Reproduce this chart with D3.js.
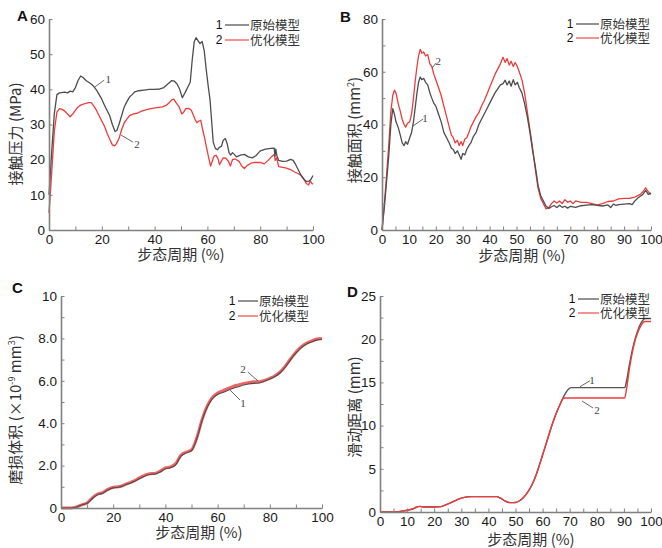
<!DOCTYPE html>
<html>
<head>
<meta charset="utf-8">
<script src="https://cdn.jsdelivr.net/npm/d3@7"></script>
<style>
  body { margin: 0; background: #fff; }
  svg { display: block; }
</style>
</head>
<body>
<div id="chart"></div>
<script>
// Data (x = 步态周期 %, y = value)
const legendNames = ['原始模型', '优化模型'];

const pressureOriginal = [[0,10],[1,22],[2,33],[3,38.5],[4,39],[6,39.2],[7,39],[8,39.5],[9,39.3],[10,40.5],[11,42.5],[12,43.8],[13,43.3],[14,42.5],[15,42],[16,41.5],[17,40.8],[18,39.8],[19,38.5],[20,37.2],[21,35.5],[22,34],[23,32.5],[24,30],[25,28],[25.7,28.3],[26.5,30],[27.5,32.5],[28.5,35],[29.5,36.5],[30.5,37.8],[31.5,38.5],[32.5,39.3],[34,39.6],[36,39.8],[38,40],[40,40],[42,40.1],[43.5,40.5],[45,41.5],[46.5,42.5],[47.5,42.3],[48.5,41.5],[49.5,40],[50.5,37.6],[51.5,39],[52.5,40.5],[53.5,42],[54.2,48],[55,53.5],[55.7,54.7],[56.5,53.8],[57.2,53],[58,53.6],[58.8,51],[59.5,46],[60.3,41],[61,37],[61.6,31],[62.2,25],[63,23.2],[63.8,22.8],[64.5,23.5],[65.3,23.8],[66,25.5],[66.8,26],[67.5,24.5],[68.2,22],[68.8,21.3],[69.5,22],[70.2,21.5],[71,20.8],[72.5,21.3],[74,21.5],[75.5,20.8],[77,20.5],[78.5,21.2],[80,22.5],[82,23],[84,23.2],[85.3,23.3],[85.6,21],[85.9,23],[86.3,21.2],[87,19.8],[88.5,19.5],[90,19.6],[91.5,20.1],[92.5,19.8],[93.5,18.5],[94.5,17],[95.5,15.5],[96.5,14.5],[97.5,13.8],[98.5,13.9],[99.3,14.5],[100,15.5]];
const pressureOptimized = [[0,4.8],[1,16],[2,28],[3,33.5],[4,34.5],[5,34.3],[6,33.8],[7,33],[8,32.2],[9,33],[10,34],[11,35],[12,35.5],[13,35.8],[14,36],[15,36.2],[16,36.2],[17,35.2],[18,34],[19,32.5],[20,31],[21,29.5],[22,27.5],[23,25.8],[24,24.2],[24.8,23.9],[25.5,24.5],[26.5,26],[27.5,28.5],[28.5,30.5],[29.5,31.5],[30.5,32.5],[32,33],[33.5,33.2],[35,33.8],[37,34.2],[39,34.6],[41,34.8],[43,35],[44.5,35.5],[45.5,36.2],[46.5,37],[47.3,37.2],[48.3,36],[49.3,35],[50.3,33],[51,33.5],[51.8,34.5],[52.8,34.6],[53.8,34.2],[54.5,33],[55.3,31.5],[56,30.5],[56.8,31],[57.5,31.2],[58.2,28.5],[59,26],[59.8,23],[60.5,20.5],[61.2,18.2],[61.8,19.5],[62.5,21],[63.3,21.2],[64,20.3],[64.6,18.6],[65.2,19.5],[66,20.5],[67,20.4],[68,19.5],[68.7,18.2],[69.5,20],[70.5,20.2],[72,19.5],[73,18.2],[74,17.5],[75,18.3],[76.5,19],[78,19.2],[80,19.2],[81.5,18.8],[83,19.8],[84.5,21],[85.4,21.5],[85.7,19.8],[86.2,20.5],[87,18],[88.5,17.8],[90,17.6],[91.5,17.2],[93,16.5],[94.5,16],[95.5,15.5],[96.5,14.5],[97.5,13.2],[98.3,12.8],[99,14],[99.5,13.3],[100,13]];

const areaOriginal = [[0,0],[0.8,8],[1.5,16],[2.5,28],[3.3,40],[4,46],[4.6,44],[5.2,41],[6,39],[6.8,36],[7.5,33],[8.2,32],[8.8,33.5],[9.5,32.5],[10.3,35],[11,37],[11.7,41],[12.3,46],[13,52],[13.6,56],[14.2,58],[14.8,57],[15.5,57.5],[16.2,56],[17,55],[17.8,52],[18.5,50],[19.3,48],[20,47],[21,44],[22,41],[23,37],[24,35],[25,33],[25.8,31],[26.5,30.5],[27.2,29],[28,30],[28.7,28.5],[29.4,26.8],[30,29],[30.8,28.5],[31.5,30.5],[32.3,32],[33,33],[34,35.5],[35,37],[36,40],[37,42],[38,44],[39,46],[40,48],[41,50],[42,52],[43,53.5],[44,55],[45,55.5],[45.8,56.8],[46.5,55],[47.3,56.5],[48,54.5],[48.8,57],[49.5,55],[50.3,56],[51,54],[52,52],[53,48],[54,43],[55,37],[56,30],[57,24],[58,17],[59,13],[60,11],[61,9],[62,8.2],[63,8.8],[64,9.3],[65,8.5],[66,9.4],[67,8.6],[68,9],[69,8.3],[70,9],[72,8.6],[74,9.2],[76,9.4],[78,9.6],[80,9.3],[82,9.1],[84,9.5],[85,8.5],[86,9.8],[87,9.3],[88,9.6],[90,9.8],[92,10],[93,9.6],[94,11],[95,12],[96,12.8],[97,13.5],[98,15],[99,13.5],[100,14]];
const areaOptimized = [[0,0],[0.8,9],[1.5,18],[2.5,32],[3.3,45],[4,51],[4.6,53],[5.2,52],[6,48],[6.8,45],[7.5,42],[8.2,40],[8.8,39],[9.5,40.5],[10.3,41],[11,44],[11.7,50],[12.3,56],[13,62],[13.6,66],[14.2,68.5],[14.8,67],[15.5,67.5],[16.2,66],[17,66.5],[17.8,63],[18.5,62],[19.3,59],[20,57],[21,54],[22,51],[23,47],[24,43],[25,39],[25.8,36],[26.5,35],[27.2,33],[28,34],[28.7,32],[29.4,33.5],[30,32],[30.8,34.5],[31.5,35],[32.3,37],[33,39],[34,41],[35,43],[36,44.5],[37,47],[38,49],[39,51.5],[40,54],[41,56.5],[42,59],[43,61],[44,63],[45,65.5],[45.8,63.5],[46.5,65],[47.3,62.5],[48,64],[48.8,62],[49.5,63.5],[50.3,62],[51,60],[52,57],[53,52],[54,45],[55,38],[56,31],[57,23],[58,16],[59,12],[60,10],[61,8],[62,8.5],[63,10],[64,11],[65,10.2],[66,11],[67,10],[68,11.5],[69,10.5],[70,11],[71,10],[72,11],[74,10.5],[76,10.5],[78,10],[80,9.5],[82,10],[84,10.8],[86,11],[88,11.8],[90,12],[92,12],[94,12.5],[96,13.5],[97,14.5],[98,16],[99,14.5],[100,13.5]];

const wearOriginal = [[0,0],[4,0],[6,0.05],[8,0.15],[10,0.22],[12,0.45],[14,0.63],[16,0.7],[18,0.85],[20,0.95],[22,0.98],[24,1.05],[26,1.15],[28,1.25],[30,1.38],[32,1.5],[34,1.58],[36,1.6],[38,1.7],[40,1.85],[42,1.9],[44,2.05],[46,2.45],[48,2.6],[50,2.7],[52,3.25],[54,4.1],[56,4.75],[58,5.15],[60,5.35],[62,5.45],[64,5.55],[66,5.65],[68,5.72],[70,5.8],[72,5.85],[74,5.88],[76,5.9],[78,5.98],[80,6.08],[82,6.2],[84,6.38],[86,6.65],[88,7.0],[90,7.3],[92,7.55],[94,7.72],[96,7.83],[98,7.92],[100,7.95]];
const wearOptimized = [[0,0],[4,0],[6,0.05],[8,0.15],[10,0.24],[12,0.48],[14,0.66],[16,0.73],[18,0.88],[20,0.98],[22,1.0],[24,1.08],[26,1.18],[28,1.28],[30,1.42],[32,1.54],[34,1.62],[36,1.63],[38,1.74],[40,1.89],[42,1.94],[44,2.1],[46,2.5],[48,2.64],[50,2.74],[52,3.3],[54,4.15],[56,4.8],[58,5.22],[60,5.42],[62,5.53],[64,5.64],[66,5.74],[68,5.81],[70,5.88],[72,5.92],[74,5.95],[76,5.96],[78,6.02],[80,6.12],[82,6.24],[84,6.42],[86,6.7],[88,7.04],[90,7.35],[92,7.6],[94,7.77],[96,7.88],[98,7.97],[100,8.0]];

const slideOriginal = [[0,0],[5,0],[8,0.1],[10,0.2],[12,0.35],[13.5,0.55],[14.5,0.65],[16,0.58],[20,0.58],[22.5,0.62],[24,0.8],[26,1.05],[28,1.35],[30,1.6],[32,1.75],[34,1.78],[43,1.78],[44.5,1.6],[46,1.3],[48,1.08],[50,1.1],[51.5,1.3],[53,1.7],[54.5,2.3],[56,3.1],[57.5,4.2],[59,5.6],[60.5,7.1],[62,8.6],[63.5,10.1],[65,11.4],[66.5,12.5],[68,13.5],[69.5,14.2],[70.5,14.4],[90.3,14.4],[91,15.2],[92,17],[93,18.6],[94,19.9],[95,20.9],[96,21.7],[97,22.2],[98,22.4],[100,22.4]];
const slideOptimized = [[0,0],[5,0],[8,0.1],[10,0.2],[12,0.35],[13.5,0.55],[14.5,0.65],[16,0.58],[20,0.58],[22.5,0.62],[24,0.8],[26,1.05],[28,1.35],[30,1.6],[32,1.75],[34,1.78],[43,1.78],[44.5,1.6],[46,1.3],[48,1.08],[50,1.1],[51.5,1.3],[53,1.7],[54.5,2.3],[56,3.1],[57.5,4.2],[59,5.6],[60.5,7.1],[62,8.6],[63.5,10.1],[65,11.4],[66.5,12.5],[67.5,13.1],[68.2,13.2],[90.3,13.2],[91,14.3],[92,16.5],[93,18.3],[94,19.7],[95,20.7],[96,21.4],[97,21.9],[98,22.05],[100,22.05]];

// Tick values
const xTicksA = d3.range(0, 101, 10), xLabelsA = [0, 20, 40, 60, 80, 100];
const yTicksA = d3.range(0, 61, 10);
const xTicksB = d3.range(0, 101, 5), xLabelsB = d3.range(0, 101, 10);
const yTicksB = d3.range(0, 81, 10), yLabelsB = [0, 20, 40, 60, 80];
const xTicksC = d3.range(0, 101, 10), xLabelsC = [0, 20, 40, 60, 80, 100];
const yTicksC = d3.range(0, 11, 1), yLabelsC = [0, 2, 4, 6, 8, 10];
const xTicksD = d3.range(0, 101, 5), xLabelsD = d3.range(0, 101, 10);
const yTicksD = d3.range(0, 25.1, 2.5), yLabelsD = [0, 5, 10, 15, 20, 25];

//Visual
const width = 662;
const height = 548;
const black = '#4d4d4d';
const red = '#ee3b3b';
const axisColor = '#808080';
const latin = '"Liberation Sans", Arial, sans-serif';
const cjk = '"Noto Sans CJK SC", "Liberation Sans", sans-serif';

const svg = d3.select('#chart').append('svg')
  .attr('width', width)
  .attr('height', height);

svg.append('rect').attr('width', width).attr('height', height).attr('fill', '#fff');

function drawPanel(p) {
  const x = d3.scaleLinear().domain([0, 100]).range([p.left, p.right]);
  const y = d3.scaleLinear().domain([0, p.yMax]).range([p.bottom, p.top]);
  const g = svg.append('g');

  // lines
  const line = d3.line().x(d => x(d[0])).y(d => y(d[1])).curve(p.curve);
  p.series.forEach(s => {
    g.append('path')
      .datum(s.data)
      .attr('fill', 'none')
      .attr('stroke', s.color)
      .attr('stroke-width', s.width)
      .attr('stroke-opacity', s.opacity || 1)
      .attr('stroke-linejoin', 'round')
      .attr('d', line);
  });

  // axes
  const xAxis = d3.axisBottom(x)
    .tickValues(p.xTicks)
    .tickSizeInner(-3.5).tickSizeOuter(0).tickPadding(4)
    .tickFormat(d => p.xLabels.includes(d) ? d : '');
  const yAxis = d3.axisLeft(y)
    .tickValues(p.yTicks)
    .tickSizeInner(-3.5).tickSizeOuter(0).tickPadding(4)
    .tickFormat(d => p.yLabels.includes(d) ? p.yFormat(d) : '');

  [[xAxis, `translate(0,${p.bottom})`], [yAxis, `translate(${p.left},0)`]].forEach(([ax, tr]) => {
    const a = g.append('g').attr('transform', tr).call(ax);
    a.select('.domain').attr('stroke', axisColor).attr('stroke-width', 1.6);
    a.selectAll('.tick line').attr('stroke', axisColor).attr('stroke-width', 1);
    a.selectAll('.tick text')
      .attr('fill', '#1a1a1a')
      .style('font-size', '13.5px')
      .style('font-family', latin);
  });

  // axis titles
  g.append('text')
    .attr('x', p.xTitle[0]).attr('y', p.xTitle[1])
    .attr('dy', '0.35em')
    .attr('text-anchor', 'middle')
    .attr('fill', '#333')
    .style('font-size', '15px')
    .style('font-family', cjk)
    .text('步态周期 (%)');

  const yt = g.append('text')
    .attr('transform', `translate(${p.yTitle[0]},${p.yTitle[1]}) rotate(-90)`)
    .attr('dy', '0.35em')
    .attr('text-anchor', 'middle')
    .attr('fill', '#333')
    .style('font-size', '15px')
    .style('font-family', cjk);
  p.yTitleParts.forEach(part => {
    const t = yt.append('tspan').text(part.t);
    if (part.sup) t.attr('baseline-shift', 'super').style('font-size', '9px');
  });

  // panel letter
  g.append('text')
    .attr('x', p.letter[0]).attr('y', p.letter[1])
    .attr('fill', '#111')
    .style('font-size', '15px')
    .style('font-weight', 'bold')
    .style('font-family', latin)
    .text(p.name);

  // legend
  legendNames.forEach((name, i) => {
    const ly = p.legend.y[i];
    g.append('text')
      .attr('x', p.legend.x).attr('y', ly).attr('dy', '0.36em')
      .attr('text-anchor', 'middle')
      .attr('fill', '#111')
      .style('font-size', '12px')
      .style('font-family', latin)
      .text(i + 1);
    g.append('line')
      .attr('x1', p.legend.x + 6).attr('x2', p.legend.x + 6 + p.legend.len)
      .attr('y1', ly).attr('y2', ly)
      .attr('stroke', i === 0 ? '#777' : '#f07878')
      .attr('stroke-width', 1.6);
    g.append('text')
      .attr('x', p.legend.x + 7 + p.legend.len).attr('y', ly).attr('dy', '0.36em')
      .attr('fill', '#333')
      .style('font-size', '12.5px')
      .style('font-family', cjk)
      .text(name);
  });

  // curve annotations (in data units)
  p.notes.forEach(n => {
    g.append('line')
      .attr('x1', x(n.from[0])).attr('y1', y(n.from[1]))
      .attr('x2', x(n.to[0])).attr('y2', y(n.to[1]))
      .attr('stroke', '#555').attr('stroke-width', 0.9);
    g.append('text')
      .attr('x', x(n.at[0])).attr('y', y(n.at[1])).attr('dy', '0.35em')
      .attr('text-anchor', 'middle')
      .attr('fill', '#444')
      .style('font-size', '11px')
      .style('font-family', '"Liberation Serif", serif')
      .text(n.label);
  });
}

drawPanel({
  name: 'A', left: 49, right: 313, top: 19, bottom: 230, yMax: 60,
  curve: d3.curveLinear,
  series: [
    { data: pressureOptimized, color: red, width: 1.3 },
    { data: pressureOriginal, color: black, width: 1.3 }
  ],
  xTicks: xTicksA, xLabels: xLabelsA,
  yTicks: yTicksA, yLabels: yTicksA, yFormat: d => d,
  xTitle: [181, 255], yTitle: [16, 134],
  yTitleParts: [{ t: '接触压力 (MPa)' }],
  letter: [17, 21],
  legend: { x: 219, y: [25, 40], len: 24 },
  notes: [
    { label: '1', at: [22.4, 42.9], from: [17.4, 40.7], to: [20.9, 42.6] },
    { label: '2', at: [33.3, 24.5], from: [27.3, 27], to: [31.8, 25] }
  ]
});

drawPanel({
  name: 'B', left: 382, right: 651, top: 19, bottom: 230, yMax: 80,
  curve: d3.curveLinear,
  series: [
    { data: areaOptimized, color: red, width: 1.3 },
    { data: areaOriginal, color: black, width: 1.3 }
  ],
  xTicks: xTicksB, xLabels: xLabelsB,
  yTicks: yTicksB, yLabels: yLabelsB, yFormat: d => d,
  xTitle: [522, 256], yTitle: [355, 130],
  yTitleParts: [{ t: '接触面积 (mm' }, { t: '2', sup: true }, { t: ')' }],
  letter: [340, 22],
  legend: { x: 570, y: [24, 38], len: 23 },
  notes: [
    { label: '2', at: [20.9, 64.1], from: [18.6, 61.4], to: [20.1, 63.3] },
    { label: '1', at: [16, 42.5], from: [11.5, 39.4], to: [15.3, 42.1] }
  ]
});

drawPanel({
  name: 'C', left: 61, right: 322, top: 296, bottom: 508, yMax: 10,
  curve: d3.curveMonotoneX,
  series: [
    { data: wearOptimized, color: red, width: 3, opacity: 0.8 },
    { data: wearOriginal, color: black, width: 1.1 }
  ],
  xTicks: xTicksC, xLabels: xLabelsC,
  yTicks: yTicksC, yLabels: yLabelsC,
  yFormat: d => (d === 0 || d === 10) ? d : d.toFixed(1),
  xTitle: [199, 533], yTitle: [16, 410],
  yTitleParts: [{ t: '磨损体积 (×10' }, { t: '-9', sup: true }, { t: ' mm' }, { t: '3', sup: true }, { t: ')' }],
  letter: [12, 293],
  legend: { x: 232, y: [301, 316], len: 20 },
  notes: [
    { label: '2', at: [69.7, 6.55], from: [71.6, 6.41], to: [75.5, 5.99] },
    { label: '1', at: [69.7, 4.95], from: [64.8, 5.56], to: [68.6, 5.09] }
  ]
});

drawPanel({
  name: 'D', left: 380, right: 651, top: 296, bottom: 512, yMax: 25,
  curve: d3.curveMonotoneX,
  series: [
    { data: slideOriginal, color: '#555', width: 1.4 },
    { data: slideOptimized, color: red, width: 1.4 }
  ],
  xTicks: xTicksD, xLabels: xLabelsD,
  yTicks: yTicksD, yLabels: yLabelsD, yFormat: d => d,
  xTitle: [531, 540], yTitle: [355, 407],
  yTitleParts: [{ t: '滑动距离 (mm)' }],
  letter: [347, 297],
  legend: { x: 572, y: [299, 313], len: 21 },
  notes: [
    { label: '1', at: [78.2, 15.3], from: [73.8, 14.5], to: [77.5, 15.2] },
    { label: '2', at: [80.1, 11.8], from: [74.5, 12.85], to: [78.6, 12.04] }
  ]
});
</script>
</body>
</html>
